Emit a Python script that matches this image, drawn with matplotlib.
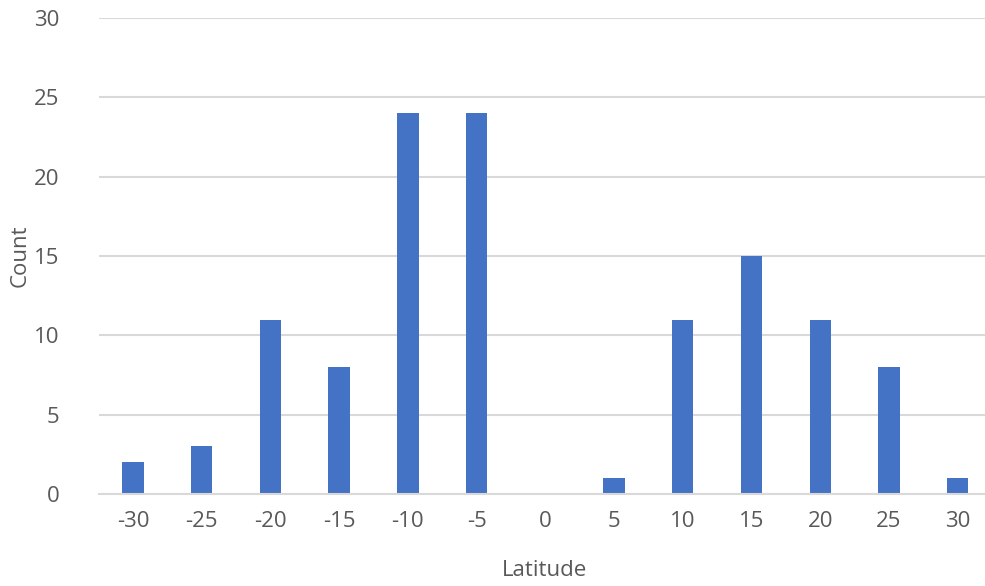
import matplotlib.pyplot as plt
import numpy as np

latitude = [-30, -25, -20, -15, -10, -5, 0, 5, 10, 15, 20, 25, 30]
count = [2, 3, 11, 8, 24, 24, 0, 1, 11, 15, 11, 8, 1]
y_ticks = [0, 5, 10, 15, 20, 25, 30]

plt.rcParams['font.family'] = ['Open Sans', 'DejaVu Sans']
grey = '#595959'

fig = plt.figure(figsize=(9.85, 5.86), dpi=100)
ax = fig.add_axes([0.1001, 0.157, 0.907, 0.812])

x = np.arange(len(latitude))
ax.bar(x, count, width=0.31, color='#4472C4', zorder=3)

ax.set_xlim(-0.5, len(latitude) - 0.5)
ax.set_ylim(0, 30)
ax.set_yticks(y_ticks)
ax.set_xticks(x)
ax.set_xticklabels([str(v) for v in latitude])
ax.yaxis.grid(True, color='#D9D9D9', linewidth=1.5, zorder=0)

for s in ['top', 'right', 'left']:
    ax.spines[s].set_visible(False)
ax.spines['bottom'].set_color('#D9D9D9')
ax.spines['bottom'].set_linewidth(1.5)
ax.spines['bottom'].set_zorder(4)

ax.tick_params(axis='both', length=0, labelsize=16, labelcolor=grey)
ax.tick_params(axis='x', pad=12)
ax.tick_params(axis='y', pad=28)

# axis titles placed by hand, like the reference
fig.text(20 / 985, 1 - 256 / 586, 'Count', rotation=90, fontsize=16,
         color=grey, ha='center', va='center')
fig.text(545 / 985, 1 - 571 / 586, 'Latitude', fontsize=16,
         color=grey, ha='center', va='center')

fig.savefig('out.png', dpi=100)
